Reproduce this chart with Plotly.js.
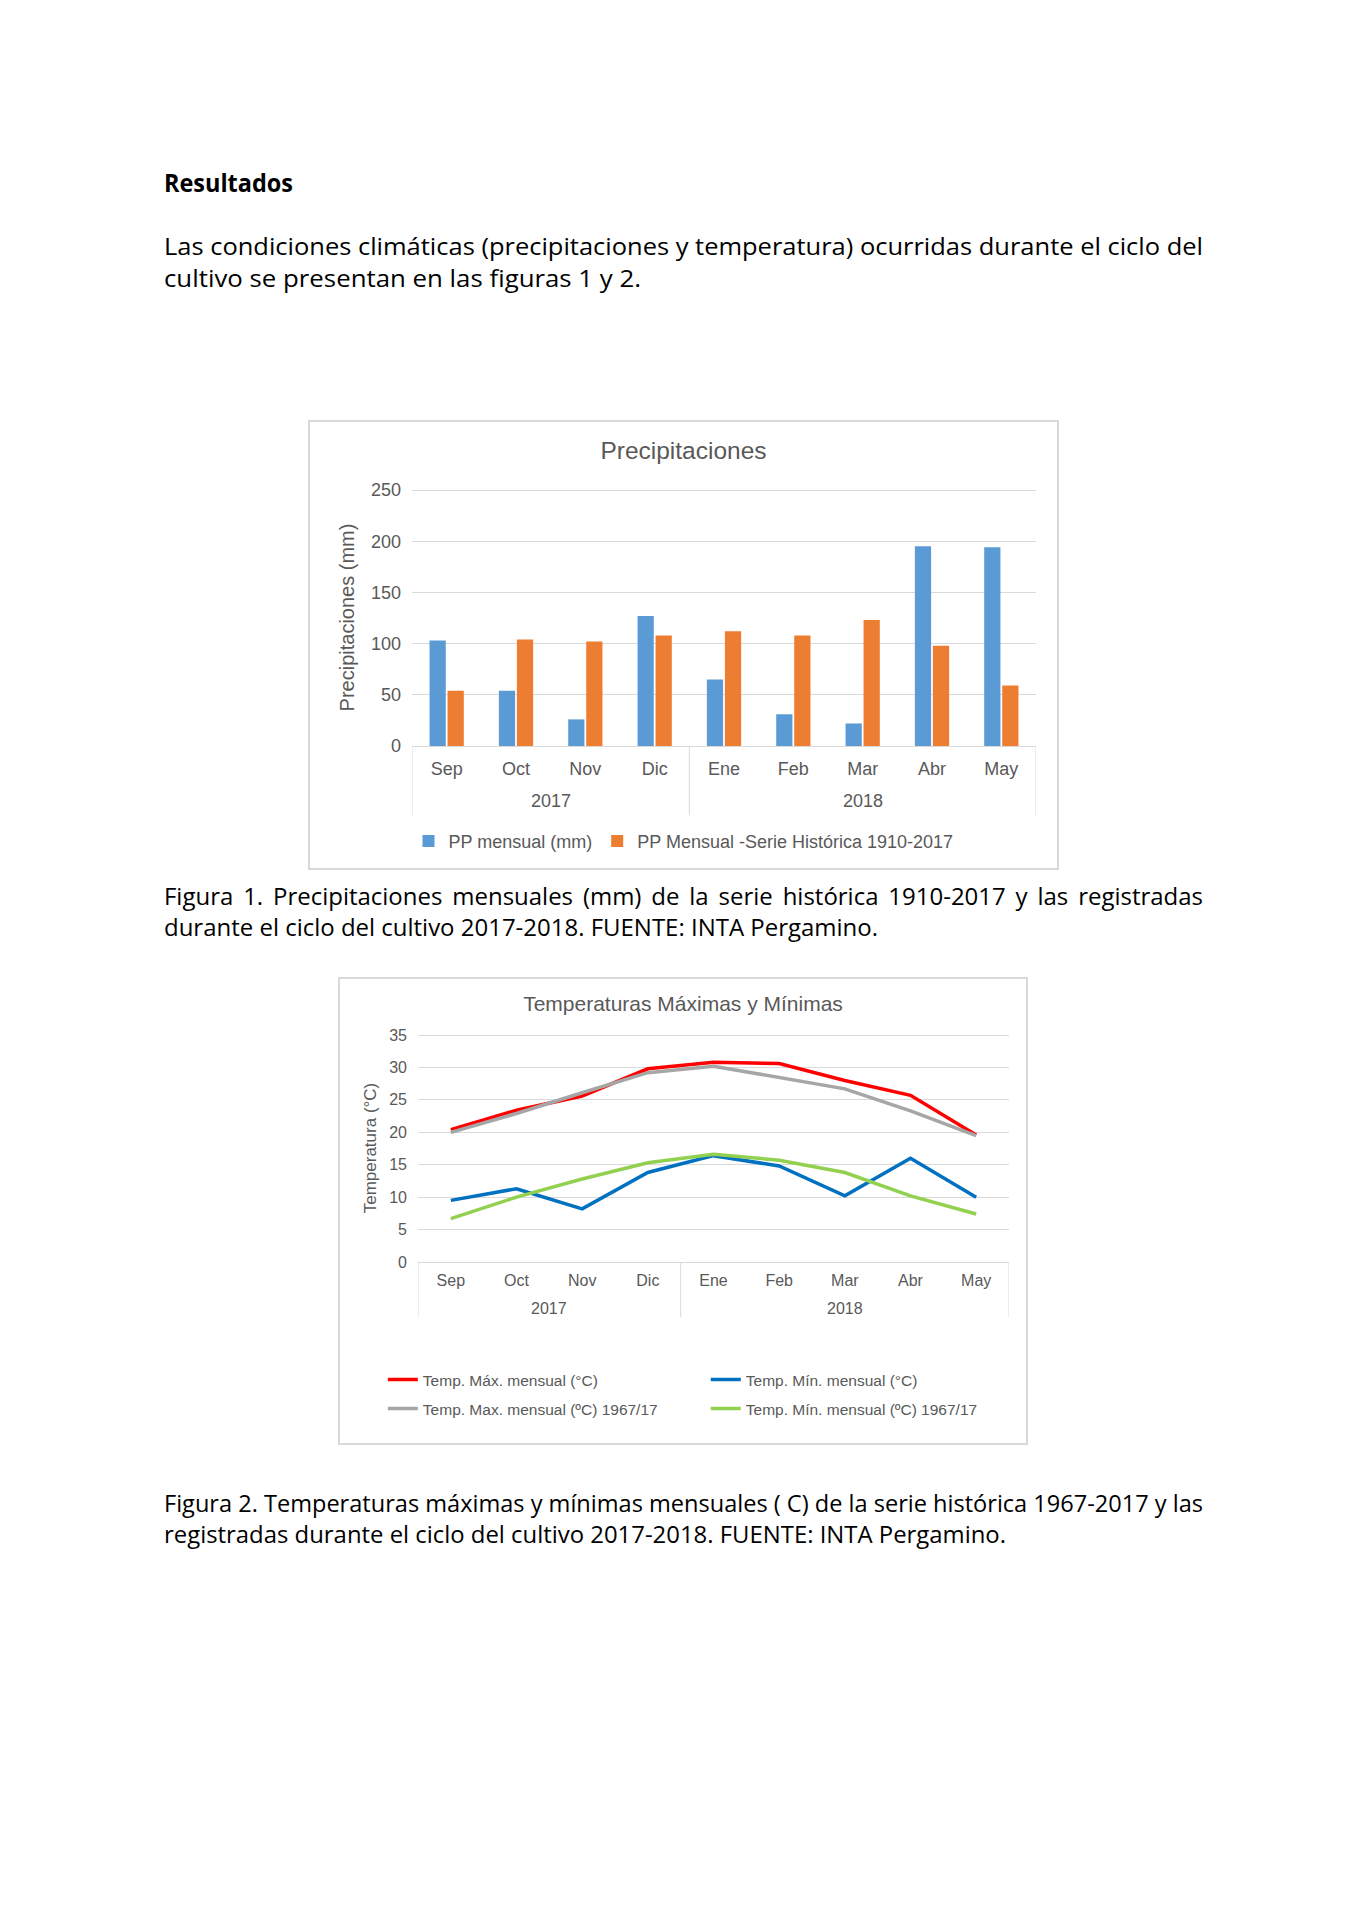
<!DOCTYPE html>
<html>
<head>
<meta charset="utf-8">
<script src="https://cdn.plot.ly/plotly-3.0.1.min.js"></script>
<style>
html,body{margin:0;padding:0;background:#fff;}
body{width:1365px;height:1930px;position:relative;overflow:hidden;font-family:'Open Sans','Noto Sans',sans-serif;color:#000;}
.ln{position:absolute;left:164px;white-space:nowrap;font-size:24px;line-height:24px;height:24px;}
.ln span{display:inline-block;transform-origin:0 50%;}
.plot{position:absolute;}
.frame{position:absolute;box-sizing:border-box;border:2px solid #d9d9d9;pointer-events:none;}
</style>
</head>
<body>
<div class="ln" data-w="129" style="top:170px;font-weight:700;font-size:25px;"><span>Resultados</span></div>
<div class="ln" data-w="1039" style="top:234px;"><span>Las condiciones climáticas (precipitaciones y temperatura) ocurridas durante el ciclo del</span></div>
<div class="ln" data-w="477" style="top:266px;"><span>cultivo se presentan en las figuras 1 y 2.</span></div>

<div id="chart1" class="plot" style="left:308px;top:420px;width:751px;height:450px;"></div>
<div class="frame" style="left:308px;top:420px;width:751px;height:450px;"></div>

<div class="ln" data-w="1039" data-j="1" style="top:884px;"><span>Figura 1. Precipitaciones mensuales (mm) de la serie histórica 1910-2017 y las registradas</span></div>
<div class="ln" id="ref" data-w="714" style="top:915px;"><span>durante el ciclo del cultivo 2017-2018. FUENTE: INTA Pergamino.</span></div>

<div id="chart2" class="plot" style="left:338px;top:977px;width:690px;height:468px;"></div>
<div class="frame" style="left:338px;top:977px;width:690px;height:468px;"></div>

<div class="ln" data-w="1039" data-j="1" style="top:1491px;"><span>Figura 2. Temperaturas máximas y mínimas mensuales ( C) de la serie histórica 1967-2017 y las</span></div>
<div class="ln" data-w="842" style="top:1522px;"><span>registradas durante el ciclo del cultivo 2017-2018. FUENTE: INTA Pergamino.</span></div>

<script>
// ---------- data ----------
const months = ['Sep','Oct','Nov','Dic','Ene','Feb','Mar','Abr','May'];
const years  = ['2017','2017','2017','2017','2018','2018','2018','2018','2018'];

const ppMensual   = [103, 54, 26, 127, 65, 31, 22, 195, 194];
const ppHistorica = [54, 104, 102, 108, 112, 108, 123, 98, 59];

const tMax     = [20.4, 23.4, 25.6, 29.8, 30.8, 30.6, 28.0, 25.7, 19.6];
const tMin     = [9.5, 11.3, 8.2, 13.8, 16.4, 14.8, 10.2, 16.0, 10.0];
const tMaxHist = [20.0, 22.9, 26.1, 29.2, 30.2, 28.5, 26.7, 23.3, 19.5];
const tMinHist = [6.7, 10.0, 12.8, 15.3, 16.6, 15.7, 13.8, 10.2, 7.4];

const ppNames = ['PP mensual (mm)', 'PP Mensual -Serie Histórica 1910-2017'];
const tNames = ['Temp. Máx. mensual (°C)', 'Temp. Mín. mensual (°C)',
                'Temp. Max. mensual (ºC) 1967/17', 'Temp. Mín. mensual (ºC) 1967/17'];

const GRAY = '#595959';
const LIGHT = '#d9d9d9';
const FONT = 'Liberation Sans, Arial, sans-serif';
const cfg = {displayModeBar:false, staticPlot:true};

// year groups (derived from the years array): centre index and boundaries
function yearGroups(){
  const groups = [];
  years.forEach((y, i) => {
    const g = groups[groups.length - 1];
    if (g && g.year === y) g.end = i; else groups.push({year:y, start:i, end:i});
  });
  return groups;
}
function groupDecor(yLabel, yDiv, fontSize){
  const groups = yearGroups();
  const annotations = groups.map(g => ({
    xref:'x', yref:'paper', x:(g.start + g.end) / 2, y:yLabel, yanchor:'middle',
    text:g.year, showarrow:false, font:{size:fontSize, color:GRAY}
  }));
  const bounds = [groups[0].start - 0.5].concat(groups.map(g => g.end + 0.5));
  const shapes = bounds.map(b => ({
    type:'line', xref:'x', yref:'paper', x0:b, x1:b, y0:0, y1:yDiv,
    line:{color:LIGHT, width:1}
  }));
  return {annotations, shapes};
}

// ---------- chart 1 ----------
const d1 = groupDecor(-0.215, -0.27, 18);
Plotly.newPlot('chart1', [
  {type:'bar', name:ppNames[0], x:months, y:ppMensual, marker:{color:'#5b9bd5'}},
  {type:'bar', name:ppNames[1], x:months, y:ppHistorica, marker:{color:'#ed7d31'}}
], {
  width:751, height:450,
  margin:{l:104, r:23, t:69, b:124},
  paper_bgcolor:'#fff', plot_bgcolor:'#fff',
  font:{family:FONT, color:GRAY, size:18},
  title:{text:'Precipitaciones', font:{size:24.5, color:GRAY}, x:0.5, xref:'container', y:0.933, yref:'container', yanchor:'middle'},
  barmode:'group', bargap:0.48, bargroupgap:0.1,
  xaxis:{type:'category', range:[-0.5, 8.5], showline:true, linecolor:LIGHT, linewidth:1, ticks:'',
         ticklabelstandoff:6, tickfont:{size:18, color:GRAY}, showgrid:false},
  yaxis:{range:[0,251], tickvals:[0,50,100,150,200,250], gridcolor:LIGHT, gridwidth:1, zeroline:false, showline:false,
         ticks:'', ticklabelstandoff:10, tickfont:{size:18, color:GRAY},
         title:{text:'Precipitaciones (mm)', font:{size:20, color:GRAY}, standoff:10}},
  annotations:d1.annotations, shapes:d1.shapes,
  showlegend:true,
  legend:{orientation:'h', x:0.5, xanchor:'center', xref:'container', y:0.064, yref:'container', yanchor:'middle',
          font:{size:18, color:GRAY}, itemwidth:30}
}, cfg);

// ---------- chart 2 ----------
const lineColors = ['#ff0000', '#0070c0', '#a6a6a6', '#92d050'];
const tSeries = [tMax, tMin, tMaxHist, tMinHist];
const legendIds = ['legend', 'legend2', 'legend3', 'legend4'];
const d2 = groupDecor(-0.203, -0.242, 16);
const legX = [0.065, 0.533];
const legY = [0.139, 0.077];
const layout2 = {
  width:690, height:468,
  margin:{l:80, r:19, t:57, b:183},
  paper_bgcolor:'#fff', plot_bgcolor:'#fff',
  font:{family:FONT, color:GRAY, size:16},
  title:{text:'Temperaturas Máximas y Mínimas', font:{size:21, color:GRAY}, x:0.5, xref:'container', y:0.944, yref:'container', yanchor:'middle'},
  xaxis:{type:'category', range:[-0.5, 8.5], showline:true, linecolor:LIGHT, linewidth:1, ticks:'',
         ticklabelstandoff:4, tickfont:{size:16, color:GRAY}, showgrid:false},
  yaxis:{range:[0,35.16], tickvals:[0,5,10,15,20,25,30,35], gridcolor:LIGHT, gridwidth:1, zeroline:false, showline:false,
         ticks:'', ticklabelstandoff:10, tickfont:{size:16, color:GRAY},
         title:{text:'Temperatura (°C)', font:{size:17, color:GRAY}, standoff:8}},
  annotations:d2.annotations, shapes:d2.shapes,
  showlegend:true
};
legendIds.forEach((id, i) => {
  layout2[id] = {orientation:'h', x:legX[i % 2], xanchor:'left', xref:'container',
                 y:legY[Math.floor(i / 2)], yref:'container', yanchor:'middle',
                 font:{size:15.5, color:GRAY}, itemwidth:30};
});
Plotly.newPlot('chart2', tSeries.map((s, i) => ({
  type:'scatter', mode:'lines', name:tNames[i], x:months, y:s,
  line:{color:lineColors[i], width:3.5}, legend:legendIds[i]
})), layout2, cfg);

// ---------- body text fitting ----------
function fitLines(){
  const refSpan = document.querySelector('#ref span');
  refSpan.style.transform = 'none';
  const s = (+document.getElementById('ref').dataset.w) / refSpan.getBoundingClientRect().width;
  document.querySelectorAll('.ln').forEach(el => {
    const sp = el.querySelector('span');
    sp.style.transform = 'none';
    sp.style.wordSpacing = '0px';
    const target = +el.dataset.w;
    const w = sp.getBoundingClientRect().width;
    if (el.dataset.j === '1') {
      const n = (sp.textContent.match(/ /g) || []).length;
      const extra = Math.max(0, (target / s - w) / n);
      sp.style.wordSpacing = extra + 'px';
      const w2 = sp.getBoundingClientRect().width;
      sp.style.transform = 'scaleX(' + (target / w2) + ')';
    } else {
      sp.style.transform = 'scaleX(' + (target / w) + ')';
    }
  });
}
fitLines();
if (document.fonts && document.fonts.ready) document.fonts.ready.then(fitLines);
</script>
</body>
</html>
